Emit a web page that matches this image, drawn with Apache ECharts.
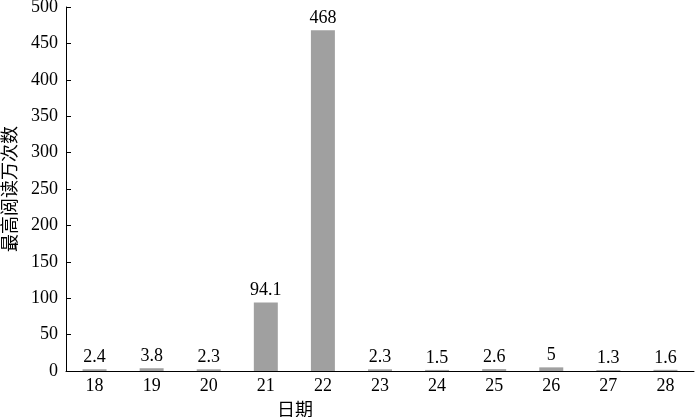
<!DOCTYPE html>
<html>
<head>
<meta charset="utf-8">
<script src="https://cdn.jsdelivr.net/npm/echarts@6/dist/echarts.min.js"></script>
<style>
  html, body { margin: 0; padding: 0; background: #fff; }
  #chart { width: 700px; height: 417px; }
</style>
</head>
<body>
<div id="chart"></div>
<script>
const days = ['18', '19', '20', '21', '22', '23', '24', '25', '26', '27', '28']
const reads = [2.4, 3.8, 2.3, 94.1, 468, 2.3, 1.5, 2.6, 5, 1.3, 1.6]
const yMax = 500
const yStep = 50

const font = '"Liberation Serif", "Noto Sans CJK SC", serif'

const chart = echarts.init(document.getElementById('chart'))
chart.setOption({
  animation: false,
  grid: {
    left: 66,
    right: 6,
    top: 7,
    bottom: 46,
    containLabel: false,
    outerBoundsMode: 'none',
  },
  xAxis: {
    type: 'category',
    data: days,
    name: '日期',
    nameLocation: 'middle',
    nameGap: 31,
    nameTextStyle: {
      fontFamily: font,
      fontSize: 18,
      color: '#000',
      padding: [0, 170, 0, 0],
    },
    axisLine: { lineStyle: { color: '#000', width: 1 } },
    axisTick: { inside: true, length: 5, lineStyle: { color: '#000' } },
    axisLabel: {
      fontFamily: font,
      fontSize: 18,
      color: '#000',
      margin: 6,
    },
  },
  yAxis: {
    type: 'value',
    min: 0,
    max: yMax,
    interval: yStep,
    name: '最高阅读万次数',
    nameLocation: 'middle',
    nameGap: 43,
    nameTextStyle: {
      fontFamily: font,
      fontSize: 18,
      color: '#000',
    },
    axisLine: { show: true, lineStyle: { color: '#000', width: 1 } },
    axisTick: { show: true, inside: true, length: 5, lineStyle: { color: '#000' } },
    axisLabel: {
      fontFamily: font,
      fontSize: 18,
      color: '#000',
      margin: 8,
    },
    splitLine: { show: false },
  },
  series: [
    {
      type: 'bar',
      data: reads,
      barWidth: '42%',
      itemStyle: { color: '#a0a0a0' },
      label: {
        show: true,
        position: 'top',
        distance: 3,
        fontFamily: font,
        fontSize: 18,
        color: '#000',
      },
    },
  ],
})
</script>
</body>
</html>
